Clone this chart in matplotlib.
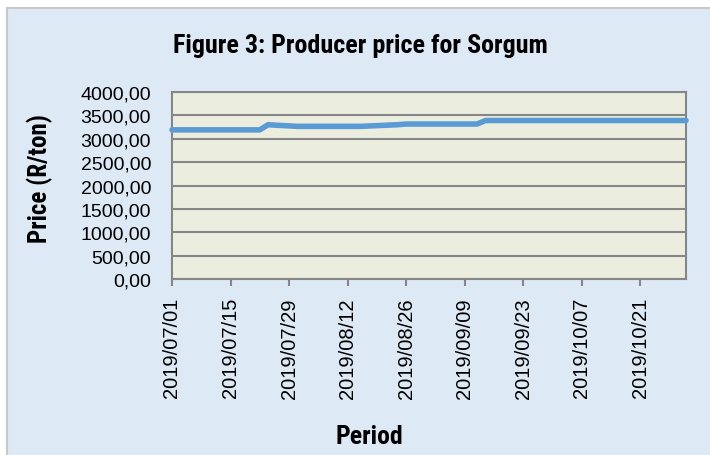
import matplotlib
matplotlib.use("Agg")
import matplotlib.pyplot as plt
from matplotlib import font_manager
from matplotlib.patches import Rectangle
import datetime as dt

# Data (breakpoints)
dates = ["2019-07-01", "2019-07-22", "2019-07-24", "2019-07-31", "2019-08-15",
         "2019-08-24", "2019-08-26", "2019-09-12", "2019-09-14", "2019-11-01"]
prices = [3190, 3190, 3300, 3265, 3265, 3300, 3315, 3315, 3390, 3390]
tick_dates = ["2019-07-01", "2019-07-15", "2019-07-29", "2019-08-12", "2019-08-26",
              "2019-09-09", "2019-09-23", "2019-10-07", "2019-10-21"]
y_ticks = [0, 500, 1000, 1500, 2000, 2500, 3000, 3500, 4000]
title = "Figure 3: Producer price for Sorgum"
xlabel = "Period"
ylabel = "Price (R/ton)"

fonts = font_manager.fontManager.ttflist
def has_bold(name):
    return any(f.name == name and (f.weight in ("bold", 700) or
               (isinstance(f.weight, int) and f.weight >= 600)) for f in fonts)
candidates = ["Liberation Sans Narrow", "Arial Narrow", "Roboto Condensed", "Pragati Narrow",
              "PT Sans Narrow", "Archivo Narrow", "Fira Sans Condensed"]
bold_fam = next((c for c in candidates if has_bold(c)), "Liberation Sans")
plt.rcParams["font.family"] = ["Liberation Sans", "DejaVu Sans"]

W, H = 710, 456
fig = plt.figure(figsize=(W / 100, H / 100), dpi=100)
fig.patch.set_facecolor("white")
fig.patches.append(Rectangle((7 / W, -0.01), 1, 1.01 - 9 / H, transform=fig.transFigure,
                             facecolor="#dde9f5", edgecolor="#c8c8c8", linewidth=1.5, zorder=-10))

ax = fig.add_axes([172 / W, 1 - 280 / H, (686 - 172) / W, (280 - 93) / H])
ax.set_zorder(5)
ax.set_facecolor("#ebeedf")
x = [dt.datetime.strptime(d, "%Y-%m-%d") for d in dates]
ax.plot(x, prices, color="#5b9bd5", linewidth=4, solid_capstyle="round", zorder=3, clip_on=False)

ax.set_xlim(dt.datetime(2019, 7, 1), dt.datetime(2019, 11, 1))
ax.set_ylim(0, 4000)
ax.set_yticks(y_ticks)
ax.set_yticklabels([f"{v:.2f}".replace(".", ",") for v in y_ticks], fontsize=14)
xt = [dt.datetime.strptime(d, "%Y-%m-%d") for d in tick_dates]
ax.set_xticks(xt)
ax.set_xticklabels([d.replace("-", "/") for d in tick_dates], rotation=90, fontsize=14.5)
ax.grid(axis="y", color="#868686", linewidth=1.5, zorder=1)
ax.set_axisbelow(True)
for s in ax.spines.values():
    s.set_color("#868686")
    s.set_linewidth(1.5)
ax.tick_params(axis="x", length=5, width=1.5, color="#868686", pad=8)
ax.tick_params(axis="y", length=0, pad=15)

fig.text(360 / W, 1 - 46 / H, title, ha="center", va="center", fontsize=18.7,
         fontweight="bold", family=[bold_fam, "DejaVu Sans"])
fig.text(369 / W, 1 - 437 / H, xlabel, ha="center", va="center", fontsize=18.5,
         fontweight="bold", family=[bold_fam, "DejaVu Sans"])
fig.text(40 / W, 1 - 179 / H, ylabel, ha="center", va="center", rotation=90, fontsize=18,
         fontweight="bold", family=[bold_fam, "DejaVu Sans"])

fig.savefig("out.png", dpi=100, facecolor=fig.get_facecolor())
